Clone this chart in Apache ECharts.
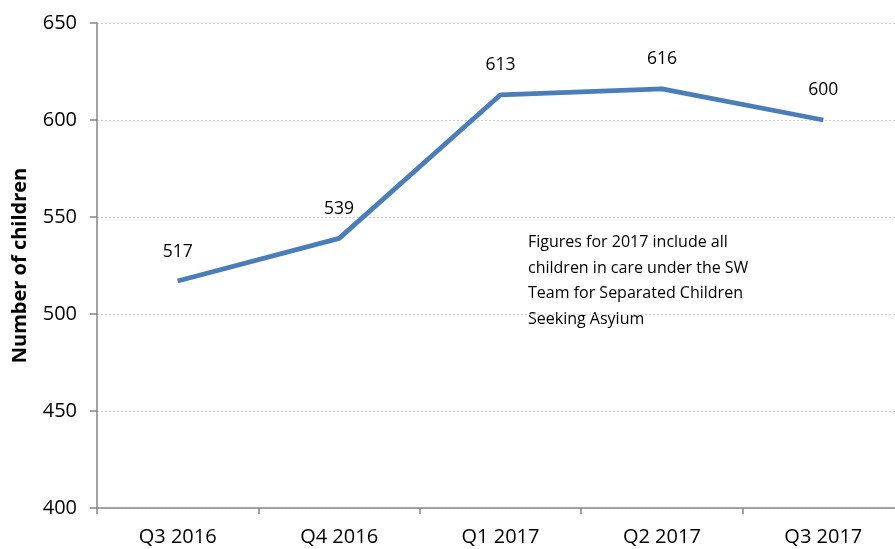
<!DOCTYPE html>
<html>
<head>
<meta charset="utf-8">
<script src="https://cdn.jsdelivr.net/npm/echarts@6/dist/echarts.min.js"></script>
<style>
  html, body { margin: 0; padding: 0; background: #fff; overflow: hidden; }
  /* The plot runs slightly past the right edge of the window */
  #chart { width: 904px; height: 549px; }
</style>
</head>
<body>
<div id="chart"></div>
<script>
// Children in care, by quarter
const quarters = ['Q3 2016', 'Q4 2016', 'Q1 2017', 'Q2 2017', 'Q3 2017'];
const childrenInCare = [517, 539, 613, 616, 600];
const yTicks = { min: 400, max: 650, interval: 50 };
const noteText = 'Figures for 2017 include all\nchildren in care under the SW\nTeam for Separated Children\nSeeking Asylum';

const font = '"Open Sans", "Liberation Sans", sans-serif';
const chart = echarts.init(document.getElementById('chart'));

chart.setOption({
  animation: false,
  grid: { left: 97, top: 23, bottom: 41, right: 0, containLabel: false, outerBoundsMode: 'none' },
  xAxis: {
    type: 'category',
    data: quarters,
    boundaryGap: true,
    axisLine: { lineStyle: { color: '#868686', width: 1.5 } },
    axisTick: { show: true, length: 6, lineStyle: { color: '#868686', width: 1.5 } },
    axisLabel: { color: '#000', fontFamily: font, fontSize: 20, margin: 19 }
  },
  yAxis: {
    type: 'value',
    min: yTicks.min,
    max: yTicks.max,
    interval: yTicks.interval,
    name: 'Number of children',
    nameLocation: 'middle',
    nameGap: 67,
    nameTextStyle: { color: '#000', fontFamily: font, fontSize: 20, fontWeight: 'bold' },
    axisLine: { show: true, lineStyle: { color: '#868686', width: 1.5 } },
    axisTick: { show: true, length: 7, lineStyle: { color: '#868686', width: 1.5 } },
    axisLabel: { color: '#000', fontFamily: font, fontSize: 20, margin: 20 },
    splitLine: { show: true, lineStyle: { color: '#d0d0d0', type: [2, 2], width: 1 } }
  },
  series: [{
    type: 'line',
    data: childrenInCare,
    symbol: 'circle',
    symbolSize: 1,
    showSymbol: true,
    itemStyle: { color: 'rgba(74,126,187,0)', borderWidth: 0 },
    lineStyle: { color: '#4a7ebb', width: 4.8 },
    label: {
      show: true,
      position: 'top',
      distance: 20,
      color: '#000',
      fontFamily: font,
      fontSize: 17.5
    }
  }],
  graphic: [{
    type: 'text',
    left: 528,
    top: 230,
    style: {
      text: noteText,
      fill: '#000',
      font: '16px ' + font,
      lineHeight: 25.5
    }
  }]
});
</script>
</body>
</html>
